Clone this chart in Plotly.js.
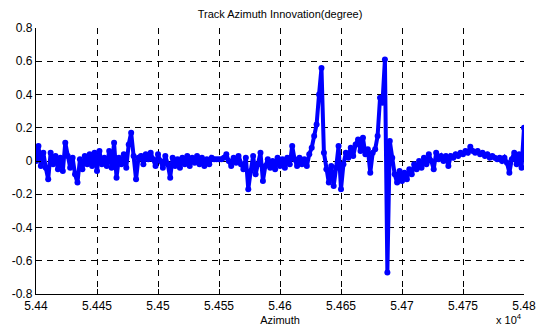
<!DOCTYPE html>
<html>
<head>
<meta charset="utf-8">
<script src="https://cdn.plot.ly/plotly-3.0.1.min.js"></script>
<style>html,body{margin:0;padding:0;background:#fff;}#chart{width:539px;height:331px;}</style>
</head>
<body>
<div id="chart"></div>
<script>
// Azimuth samples (raw units; axis shows them scaled by 10^4)
const azimuth = [
54400,54402,54404,54406,54408,54410,54412,54414,54416,54418,
54420,54422,54424,54426,54428,54430,54432,54434,54436,54438,
54440,54442,54444,54446,54448,54450,54452,54454,54456,54458,
54460,54462,54464,54466,54468,54470,54472,54474,54476,54478,
54480,54482,54484,54486,54488,54490,54492,54494,54496,54498,
54500,54502,54504,54506,54508,54510,54512,54514,54516,54518,
54520,54522,54524,54526,54528,54530,54532,54534,54536,54538,
54540,54542,54544,54546,54548,54550,54552,54554,54556,54558,
54560,54562,54564,54566,54568,54570,54572,54574,54576,54578,
54580,54582,54584,54586,54588,54590,54592,54594,54596,54598,
54600,54602,54604,54606,54608,54610,54612,54614,54616,54618,
54620,54622,54624,54626,54628,54630,54632,54634,54636,54638,
54640,54642,54644,54646,54648,54650,54652,54654,54656,54658,
54660,54662,54664,54666,54668,54670,54672,54674,54676,54678,
54680,54682,54684,54686,54688,54690,54692,54694,54696,54698,
54700,54702,54704,54706,54708,54710,54712,54714,54716,54718,
54720,54722,54724,54726,54728,54730,54732,54734,54736,54738,
54740,54742,54744,54746,54748,54750,54752,54754,54756,54758,
54760,54762,54764,54766,54768,54770,54772,54774,54776,54778,
54780,54782,54784,54786,54788,54790,54792,54794,54796,54798,
54800];
// Track azimuth innovation (degree)
const innovation = [
0.00,0.09,-0.03,0.05,-0.04,-0.11,0.05,-0.02,0.03,-0.05,
0.02,-0.06,0.11,0.03,-0.04,0.02,-0.08,-0.13,0.01,-0.05,
0.03,-0.02,0.04,-0.03,0.05,-0.06,0.06,-0.02,0.02,-0.03,
0.06,-0.04,0.11,-0.10,0.02,-0.02,0.04,-0.04,0.10,0.17,
0.03,-0.11,0.02,0.03,-0.02,0.04,0.01,0.05,0.01,-0.03,
0.04,0.00,-0.04,0.03,-0.02,-0.10,0.02,-0.03,0.01,-0.04,
0.02,-0.02,0.03,-0.03,0.02,-0.01,0.03,-0.02,0.02,-0.03,
0.01,-0.02,0.02,0.01,0.01,0.01,0.01,0.02,0.04,0.00,
-0.03,0.02,-0.01,0.03,-0.02,-0.05,0.02,-0.17,-0.06,0.03,
-0.08,-0.02,0.05,-0.12,-0.03,0.01,-0.04,0.00,-0.05,0.02,
-0.03,0.01,-0.04,0.02,-0.02,0.09,0.01,-0.03,0.02,-0.02,
0.01,-0.03,0.04,0.08,0.15,0.22,0.40,0.56,0.05,-0.05,
-0.13,-0.03,-0.15,-0.04,0.09,-0.17,-0.02,0.05,0.02,0.08,
0.03,0.10,0.13,0.06,0.14,0.04,0.07,-0.07,0.05,0.07,
0.15,0.38,0.35,0.61,-0.67,0.12,0.02,-0.08,-0.13,-0.06,
-0.12,-0.07,-0.11,-0.05,-0.08,-0.02,-0.05,0.00,-0.04,0.02,
-0.02,0.04,0.00,-0.05,0.05,0.01,0.03,0.00,0.03,-0.03,
0.03,0.02,0.04,0.03,0.05,0.04,0.06,0.05,0.085,0.06,
0.05,0.06,0.04,0.05,0.03,0.04,0.02,0.03,0.02,0.01,
0.02,0.00,0.02,-0.01,-0.07,0.01,0.05,-0.02,0.04,-0.04,
0.20];
const xTickVals = [54400,54450,54500,54550,54600,54650,54700,54750,54800];
const xTickText = ["5.44","5.445","5.45","5.455","5.46","5.465","5.47","5.475","5.48"];
const yTickVals = [-0.8,-0.6,-0.4,-0.2,0,0.2,0.4,0.6,0.8];
const yTickText = ["-0.8","-0.6","-0.4","-0.2","0","0.2","0.4","0.6","0.8"];

const font = {family: "Liberation Sans, Arial, sans-serif", color: "#000"};

const trace = {
  x: azimuth, y: innovation, type: "scatter", mode: "lines+markers",
  line: {color: "#0000ff", width: 4},
  marker: {color: "#0000ff", size: 6},
  hoverinfo: "skip"
};

const axisCommon = {
  showgrid: true, gridcolor: "#000", gridwidth: 1, griddash: "6px,5px",
  zeroline: false, showline: true, linecolor: "#000", linewidth: 1.2,
  ticks: "inside", ticklen: 5, tickcolor: "#000",
  tickfont: Object.assign({size: 12}, font), tickmode: "array"
};

const layout = {
  width: 539, height: 331,
  margin: {l: 36, r: 15, t: 28, b: 37},
  paper_bgcolor: "#fff", plot_bgcolor: "#fff",
  showlegend: false,
  font: font,
  title: {text: "Track Azimuth Innovation(degree)", font: Object.assign({size: 11}, font),
          x: 0.5195, xanchor: "center", y: 1 - 14/331, yanchor: "middle"},
  xaxis: Object.assign({}, axisCommon, {
    range: [54400, 54800], tickvals: xTickVals, ticktext: xTickText,
    title: {text: "Azimuth", font: Object.assign({size: 11}, font), standoff: 4}
  }),
  yaxis: Object.assign({}, axisCommon, {
    range: [-0.8, 0.8], tickvals: yTickVals, ticktext: yTickText
  }),
  annotations: [{
    xref: "paper", yref: "paper", x: 1.0, y: -0.128, xanchor: "right", yanchor: "bottom",
    text: "x 10<sup>4</sup>", showarrow: false, font: Object.assign({size: 11}, font)
  }]
};

Plotly.newPlot("chart", [trace], layout, {staticPlot: true, displayModeBar: false});
</script>
</body>
</html>
